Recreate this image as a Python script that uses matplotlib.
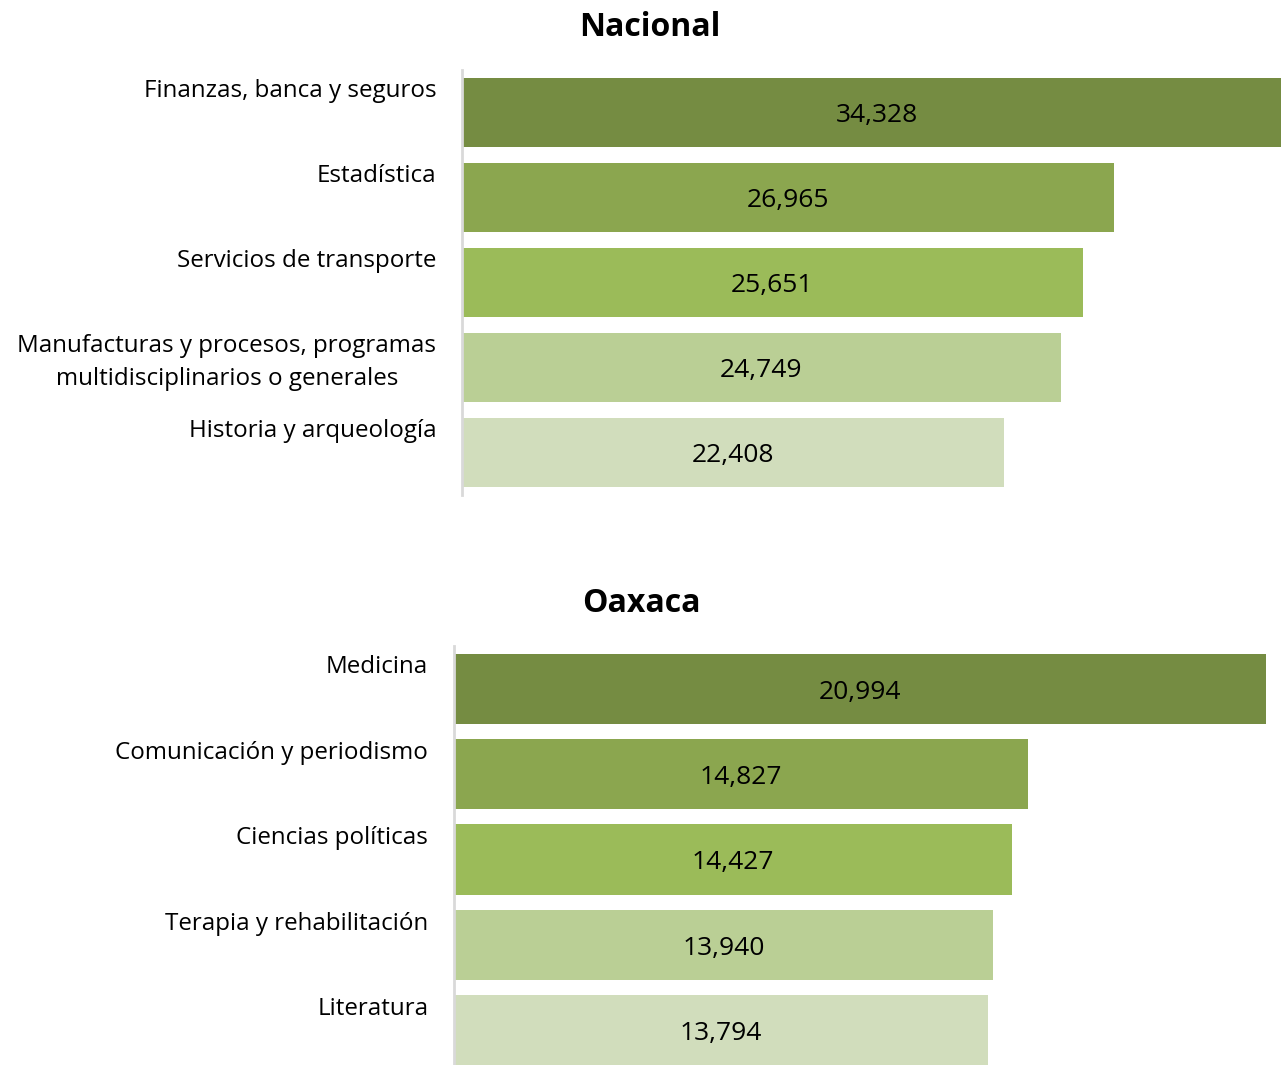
import matplotlib
matplotlib.use("Agg")
import matplotlib.pyplot as plt

plt.rcParams['font.family'] = ['Open Sans', 'DejaVu Sans']

# -------------------------------------------------
# DATA
# -------------------------------------------------
nac_labels = ["Finanzas, banca y seguros", "Estadística", "Servicios de transporte",
              "Manufacturas y procesos, programas\nmultidisciplinarios o generales",
              "Historia y arqueología"]
nac_values = [34328, 26965, 25651, 24749, 22408]

oax_labels = ["Medicina", "Comunicación y periodismo", "Ciencias políticas",
              "Terapia y rehabilitación", "Literatura"]
oax_values = [20994, 14827, 14427, 13940, 13794]

colors = ["#758C42", "#8BA64F", "#9BBB59", "#BACF95", "#D1DDBC"]

W, H = 1281, 1065
fig = plt.figure(figsize=(W / 100, H / 100), dpi=100)


def panel(rect, labels, values, xmax):
    ax = fig.add_axes(rect)
    y = list(range(len(values)))
    ax.barh(y, values, height=0.82, color=colors)
    ax.set_xlim(0, xmax)
    ax.set_ylim(len(values) - 0.5, -0.5)
    for s in ["top", "right", "bottom"]:
        ax.spines[s].set_visible(False)
    ax.spines["left"].set_color("#d9d9d9")
    ax.spines["left"].set_linewidth(2)
    ax.set_xticks([])
    ax.set_yticks([])
    for i, (lab, v) in enumerate(zip(labels, values)):
        ax.text(v / 2, i + 0.04, f"{v:,}", ha="center", va="center", fontsize=19, color="black")
        ax.annotate(lab, xy=(0, i - 0.39), xycoords=("axes fraction", "data"),
                    xytext=(-18.5, 0), textcoords="offset points",
                    ha="right", va="top", multialignment="center",
                    fontsize=17.4, linespacing=1.5, color="black")
    return ax


ax1 = panel([462 / W, (H - 495) / H, 819 / W, 425 / H], nac_labels, nac_values, 33850)
ax2 = panel([454 / W, -8 / H, 827 / W, 427 / H], oax_labels, oax_values, 21380)

fig.text(650 / W, 1 - 27 / H, "Nacional", ha="center", va="center", fontsize=23, fontweight="bold")
fig.text(641 / W, 1 - 603 / H, "Oaxaca", ha="center", va="center", fontsize=23, fontweight="bold")

fig.savefig("out.png", dpi=100)
